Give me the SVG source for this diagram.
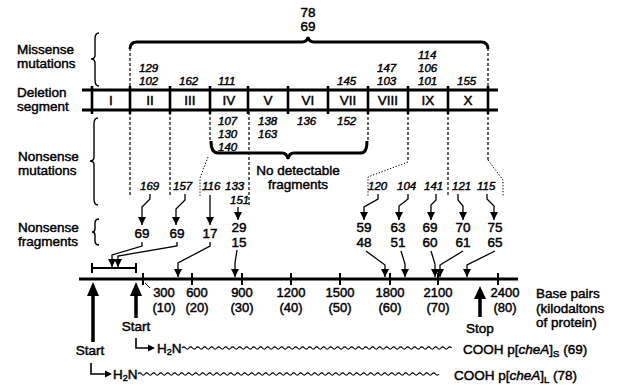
<svg xmlns="http://www.w3.org/2000/svg" width="620" height="385" viewBox="0 0 620 385">
<defs>
<style>
text{font-family:"Liberation Sans",Arial,sans-serif;fill:#000;stroke:#000;stroke-width:0.45}
.lb{font-size:13.5px}
.it{font-size:11.5px;font-style:italic}
.fr{font-size:13.5px;text-anchor:middle}
.ax{font-size:13px;text-anchor:middle}
.rn{font-size:13.5px;text-anchor:middle}
.ln{fill:none;stroke:#000}
.thick{fill:none;stroke:#000;stroke-width:3}
.dash{fill:none;stroke:#000;stroke-width:1.2;stroke-dasharray:3,2}
.dot{fill:none;stroke:#000;stroke-width:1;stroke-dasharray:1.3,1.7}
.arr{fill:none;stroke:#000;stroke-width:1.3;marker-end:url(#ah)}
.brace{fill:none;stroke:#000;stroke-width:1.4}
</style>
<marker id="ah" markerUnits="userSpaceOnUse" markerWidth="8" markerHeight="8" refX="6" refY="3" orient="auto" viewBox="0 0 6 6">
<path d="M0,0 L6,3 L0,6 z" fill="#000"/>
</marker>
</defs>
<rect width="620" height="385" fill="#fff"/>

<g id="left-labels">
<text class="lb" x="17" y="54">Missense</text>
<text class="lb" x="17" y="68">mutations</text>
<text class="lb" x="17" y="97">Deletion</text>
<text class="lb" x="17" y="111">segment</text>
<text class="lb" x="18" y="161">Nonsense</text>
<text class="lb" x="18" y="175">mutations</text>
<text class="lb" x="18" y="232">Nonsense</text>
<text class="lb" x="18" y="246">fragments</text>
<path class="brace" d="M99,33 Q95,33 95,39 V55 Q95,59 91,59 Q95,59 95,63 V80 Q95,86 99,86"/>
<path class="brace" d="M98,118 Q94,118 94,124 V157 Q94,161 90,161 Q94,161 94,165 V199 Q94,205 98,205"/>
<path class="brace" d="M99,219 Q95,219 95,223 V229 Q95,232 92,232 Q95,232 95,235 V241 Q95,245 99,245"/>
</g>

<g id="deletion-segment">
<line x1="82" y1="90" x2="498" y2="90" stroke="#000" stroke-width="3"/>
<line x1="82" y1="110" x2="498" y2="110" stroke="#000" stroke-width="3"/>
<g stroke="#000" stroke-width="2.6">
<line x1="92" y1="86" x2="92" y2="114"/>
<line x1="130" y1="86" x2="130" y2="114"/>
<line x1="170" y1="86" x2="170" y2="114"/>
<line x1="210" y1="86" x2="210" y2="114"/>
<line x1="248" y1="86" x2="248" y2="114"/>
<line x1="288" y1="86" x2="288" y2="114"/>
<line x1="328" y1="86" x2="328" y2="114"/>
<line x1="368" y1="86" x2="368" y2="114"/>
<line x1="408" y1="86" x2="408" y2="114"/>
<line x1="448" y1="86" x2="448" y2="114"/>
<line x1="488" y1="86" x2="488" y2="114"/>
</g>
<text class="rn" x="111" y="105">I</text>
<text class="rn" x="150" y="105">II</text>
<text class="rn" x="190" y="105">III</text>
<text class="rn" x="229" y="105">IV</text>
<text class="rn" x="268" y="105">V</text>
<text class="rn" x="308" y="105">VI</text>
<text class="rn" x="348" y="105">VII</text>
<text class="rn" x="388" y="105">VIII</text>
<text class="rn" x="428" y="105">IX</text>
<text class="rn" x="468" y="105">X</text>
</g>

<g id="missense">
<path class="thick" d="M130,49 Q130,42 137,42 H302 Q307,42 308,37 Q309,42 314,42 H481 Q488,42 488,49"/>
<text class="fr" x="308" y="17">78</text>
<text class="fr" x="308" y="31">69</text>
<text class="it" x="139" y="72">129</text>
<text class="it" x="139" y="85">102</text>
<text class="it" x="179" y="85">162</text>
<text class="it" x="218" y="85">111</text>
<text class="it" x="337" y="85">145</text>
<text class="it" x="377" y="72">147</text>
<text class="it" x="377" y="85">103</text>
<text class="it" x="418" y="59">114</text>
<text class="it" x="418" y="72">106</text>
<text class="it" x="418" y="85">101</text>
<text class="it" x="457" y="85">155</text>
</g>

<g id="nonsense-mutations">
<text class="it" x="218" y="125">107</text>
<text class="it" x="218" y="138">130</text>
<text class="it" x="218" y="151">140</text>
<text class="it" x="258" y="125">138</text>
<text class="it" x="258" y="138">163</text>
<text class="it" x="297" y="125">136</text>
<text class="it" x="337" y="125">152</text>
<path class="thick" d="M211,141 Q211,153 218,153 H282 Q287,153 288,159 Q289,153 294,153 H361 Q367,153 367,141"/>
<text class="lb" x="298" y="175" text-anchor="middle">No detectable</text>
<text class="lb" x="298" y="189" text-anchor="middle">fragments</text>
<text class="it" x="140" y="190">169</text>
<text class="it" x="173" y="190">157</text>
<text class="it" x="202" y="190">116</text>
<text class="it" x="225" y="190">133</text>
<text class="it" x="230" y="204">151</text>
<text class="it" x="368" y="190">120</text>
<text class="it" x="397" y="190">104</text>
<text class="it" x="424" y="190">141</text>
<text class="it" x="452" y="190">121</text>
<text class="it" x="477" y="190">115</text>
</g>

<g id="fragments">
<text class="fr" x="142" y="238">69</text>
<text class="fr" x="177" y="238">69</text>
<text class="fr" x="210" y="238">17</text>
<text class="fr" x="239" y="232">29</text>
<text class="fr" x="239" y="247">15</text>
<text class="fr" x="364" y="232">59</text>
<text class="fr" x="364" y="247">48</text>
<text class="fr" x="398" y="232">63</text>
<text class="fr" x="398" y="247">51</text>
<text class="fr" x="430" y="232">69</text>
<text class="fr" x="430" y="247">60</text>
<text class="fr" x="463" y="232">70</text>
<text class="fr" x="463" y="247">61</text>
<text class="fr" x="495" y="232">75</text>
<text class="fr" x="495" y="247">65</text>
</g>

<g id="axis">
<line x1="79" y1="279" x2="518" y2="279" stroke="#000" stroke-width="3"/>
<g stroke="#000" stroke-width="2">
<line x1="143" y1="273" x2="143" y2="285"/>
<line x1="192" y1="273" x2="192" y2="285"/>
<line x1="242" y1="273" x2="242" y2="285"/>
<line x1="291" y1="273" x2="291" y2="285"/>
<line x1="340" y1="273" x2="340" y2="285"/>
<line x1="390" y1="273" x2="390" y2="285"/>
<line x1="438" y1="273" x2="438" y2="285"/>
<line x1="498" y1="273" x2="498" y2="285"/>
</g>
<line x1="145" y1="283" x2="150" y2="288" stroke="#000" stroke-width="1"/>
<text class="ax" x="164" y="297">300</text><text class="ax" x="164" y="312">(10)</text>
<text class="ax" x="197" y="297">600</text><text class="ax" x="197" y="312">(20)</text>
<text class="ax" x="242" y="297">900</text><text class="ax" x="242" y="312">(30)</text>
<text class="ax" x="291" y="297">1200</text><text class="ax" x="291" y="312">(40)</text>
<text class="ax" x="340" y="297">1500</text><text class="ax" x="340" y="312">(50)</text>
<text class="ax" x="390" y="297">1800</text><text class="ax" x="390" y="312">(60)</text>
<text class="ax" x="438" y="297">2100</text><text class="ax" x="438" y="312">(70)</text>
<text class="ax" x="505" y="297">2400</text><text class="ax" x="505" y="312">(80)</text>
<text class="lb" x="536" y="298">Base pairs</text>
<text class="lb" x="536" y="313">(kilodaltons</text>
<text class="lb" x="536" y="327">of protein)</text>
<path class="ln" stroke-width="2" d="M92,263 V273 M92,268 H136 M136,263 V273"/>
</g>

<g id="start-stop">
<line x1="93" y1="292" x2="93" y2="342" stroke="#000" stroke-width="3.5"/>
<polygon points="87,296 93,282 99,296" fill="#000"/>
<text class="lb" x="90" y="355" text-anchor="middle">Start</text>
<line x1="136" y1="292" x2="136" y2="318" stroke="#000" stroke-width="3.5"/>
<polygon points="130,296 136,282 142,296" fill="#000"/>
<text class="lb" x="136" y="331" text-anchor="middle">Start</text>
<line x1="480" y1="296" x2="480" y2="317" stroke="#000" stroke-width="3.5"/>
<polygon points="474,299 480,286 486,299" fill="#000"/>
<text class="lb" x="480" y="333" text-anchor="middle">Stop</text>
</g>

<g id="protein-short">
<path class="ln" stroke-width="1.6" d="M136,338 V348 H149"/>
<polygon points="148,344.5 155,348 148,351.5" fill="#000"/>
<text class="lb" x="157" y="353">H<tspan font-size="9" dy="2">2</tspan><tspan dy="-2">N</tspan></text>
<path class="ln" stroke-width="1.2" d="M182,348 q1.75,-2.2 3.5,0 t3.5,0 t3.5,0 t3.5,0 t3.5,0 t3.5,0 t3.5,0 t3.5,0 t3.5,0 t3.5,0 t3.5,0 t3.5,0 t3.5,0 t3.5,0 t3.5,0 t3.5,0 t3.5,0 t3.5,0 t3.5,0 t3.5,0 t3.5,0 t3.5,0 t3.5,0 t3.5,0 t3.5,0 t3.5,0 t3.5,0 t3.5,0 t3.5,0 t3.5,0 t3.5,0 t3.5,0 t3.5,0 t3.5,0 t3.5,0 t3.5,0 t3.5,0 t3.5,0 t3.5,0 t3.5,0 t3.5,0 t3.5,0 t3.5,0 t3.5,0 t3.5,0 t3.5,0 t3.5,0 t3.5,0 t3.5,0 t3.5,0 t3.5,0 t3.5,0 t3.5,0 t3.5,0 t3.5,0 t3.5,0 t3.5,0 t3.5,0 t3.5,0 t3.5,0 t3.5,0 t3.5,0 t3.5,0 t3.5,0 t3.5,0 t3.5,0 t3.5,0 t3.5,0 t3.5,0 t3.5,0 t3.5,0 t3.5,0 t3.5,0 t3.5,0 t3.5,0 t3.5,0 t3.5,0"/>
<text class="lb" x="463" y="354">COOH p[<tspan font-style="italic">cheA</tspan>]<tspan font-size="9.5" dy="3">S</tspan><tspan dy="-3"> (69)</tspan></text>
</g>

<g id="protein-long">
<path class="ln" stroke-width="1.6" d="M91,363 V374 H106"/>
<polygon points="105,370.5 112,374 105,377.5" fill="#000"/>
<text class="lb" x="113" y="379">H<tspan font-size="9" dy="2">2</tspan><tspan dy="-2">N</tspan></text>
<path class="ln" stroke-width="1.2" d="M138,374 q1.75,-2.2 3.5,0 t3.5,0 t3.5,0 t3.5,0 t3.5,0 t3.5,0 t3.5,0 t3.5,0 t3.5,0 t3.5,0 t3.5,0 t3.5,0 t3.5,0 t3.5,0 t3.5,0 t3.5,0 t3.5,0 t3.5,0 t3.5,0 t3.5,0 t3.5,0 t3.5,0 t3.5,0 t3.5,0 t3.5,0 t3.5,0 t3.5,0 t3.5,0 t3.5,0 t3.5,0 t3.5,0 t3.5,0 t3.5,0 t3.5,0 t3.5,0 t3.5,0 t3.5,0 t3.5,0 t3.5,0 t3.5,0 t3.5,0 t3.5,0 t3.5,0 t3.5,0 t3.5,0 t3.5,0 t3.5,0 t3.5,0 t3.5,0 t3.5,0 t3.5,0 t3.5,0 t3.5,0 t3.5,0 t3.5,0 t3.5,0 t3.5,0 t3.5,0 t3.5,0 t3.5,0 t3.5,0 t3.5,0 t3.5,0 t3.5,0 t3.5,0 t3.5,0 t3.5,0 t3.5,0 t3.5,0 t3.5,0 t3.5,0 t3.5,0 t3.5,0 t3.5,0 t3.5,0 t3.5,0 t3.5,0 t3.5,0 t3.5,0 t3.5,0 t3.5,0 t3.5,0 t3.5,0 t3.5,0 t3.5,0 t3.5,0"/>
<text class="lb" x="454" y="380">COOH p[<tspan font-style="italic">cheA</tspan>]<tspan font-size="9.5" dy="3">L</tspan><tspan dy="-3"> (78)</tspan></text>
</g>

<g id="connectors">
<path class="dash" d="M130,48 V88 M130,112 V196 M488,48 V88 M488,112 V160 M170,112 V196 M210,112 V141 M249,112 V207 M368,112 V141 M408,112 V162 M448,112 V196"/>
<path class="dot" d="M488,160 L503,180 V196 M208,157 L200,178 V196 M408,162 L368,177 V196"/>
<path class="arr" d="M150,194 V199 L142,207 V225"/>
<path class="arr" d="M185,194 V200 L176,209 V225"/>
<path class="arr" d="M210,195 V225"/>
<path class="arr" d="M238,207 V220"/>
<path class="arr" d="M378,194 V199 L364,207 V220"/>
<path class="arr" d="M408,194 V199 L399,206 V220"/>
<path class="arr" d="M436,194 V200 L431,205 V220"/>
<path class="arr" d="M458,194 V200 L463,206 V220"/>
<path class="arr" d="M487,194 V199 L494,206 V220"/>
<path class="arr" d="M142,242 V246 L112,255 V267"/>
<path class="arr" d="M177,242 V246 L118,256 V267"/>
<path class="arr" d="M210,242 V246 L178,263 V277"/>
<path class="arr" d="M237,250 L235,263 V277"/>
<path class="arr" d="M366,251 L385,265 V277"/>
<path class="arr" d="M401,251 L405,264 V277"/>
<path class="arr" d="M431,251 L435,264 V277"/>
<path class="arr" d="M463,251 L440,265 V277"/>
<path class="arr" d="M495,251 L467,265 V277"/>
</g>
</svg>
